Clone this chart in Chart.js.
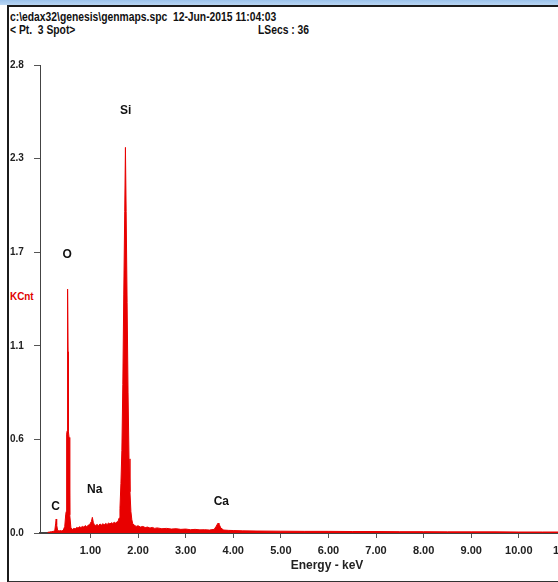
<!DOCTYPE html>
<html>
<head>
<meta charset="utf-8">
<script src="https://cdn.jsdelivr.net/npm/chart.js@4.4.1/dist/chart.umd.min.js"></script>
<style>
  html, body { margin: 0; padding: 0; width: 558px; height: 582px; overflow: hidden; background: #fff; }
  .topStrip { position: absolute; left: 0; top: 0; width: 558px; height: 5px; background: linear-gradient(#9cc3ec, #b9d6f3); }
  .frame { position: absolute; left: 7px; top: 5px; width: 700px; height: 574px; border-top: 2px solid #1b1b1b; border-left: 2px solid #1b1b1b; border-bottom: 2px solid #333; }
  .hdr { position: absolute; font: bold 12px "Liberation Sans", Arial, sans-serif; color: #111; white-space: pre; transform: scaleX(0.86); transform-origin: left top; }
  .kcnt { position: absolute; left: 10px; top: 290px; font: bold 11px "Liberation Sans", Arial, sans-serif; color: #e00000; transform: scaleX(0.9); transform-origin: left top; }
  #chartBox { position: absolute; left: 8px; top: 40px; width: 606px; height: 540px; }
</style>
</head>
<body>
<div class="topStrip"></div>
<div class="frame"></div>
<div class="hdr" style="left:10px; top:10px;">c:\edax32\genesis\genmaps.spc  12-Jun-2015 11:04:03</div>
<div class="hdr" style="left:10px; top:23px;">&lt; Pt.  3 Spot&gt;</div>
<div class="hdr" style="left:258px; top:23px;">LSecs : 36</div>
<div class="kcnt">KCnt</div>
<div id="chartBox"><canvas id="edsChart"></canvas></div>

<script>
// spectrum (energy in keV, counts in KCnt)
const energies = [
  0.10, 0.14, 0.18, 0.22, 0.25, 0.27, 0.28, 0.29, 0.31, 0.34, 0.37, 0.40, 0.43, 0.46,
  0.48, 0.49, 0.50, 0.51, 0.515, 0.52, 0.525, 0.53, 0.535, 0.55, 0.56, 0.57, 0.59,
  0.62, 0.65, 0.68, 0.71, 0.74, 0.77, 0.80, 0.83, 0.86, 0.89, 0.92, 0.95, 0.98,
  1.00, 1.02, 1.04, 1.06, 1.08, 1.11, 1.14, 1.17, 1.20, 1.23, 1.26, 1.29, 1.32,
  1.35, 1.38, 1.41, 1.44, 1.47, 1.50, 1.53, 1.56, 1.58, 1.60, 1.62, 1.64, 1.66,
  1.68, 1.70, 1.72, 1.735, 1.75, 1.77, 1.79, 1.81, 1.83, 1.85, 1.87, 1.89,
  1.92, 1.96, 2.00, 2.05, 2.10, 2.15, 2.20, 2.25, 2.30, 2.35, 2.40, 2.50, 2.60,
  2.70, 2.80, 2.90, 3.00, 3.10, 3.20, 3.30, 3.40, 3.50, 3.60, 3.64, 3.68, 3.70,
  3.74, 3.80, 3.90, 4.00, 4.20, 4.50, 5.00, 5.50, 6.00, 6.50, 7.00, 7.50, 8.00,
  8.50, 9.00, 9.50, 10.00, 10.50, 11.00, 11.50, 12.00
];
const counts = [
  0.004, 0.006, 0.008, 0.010, 0.014, 0.060, 0.085, 0.050, 0.016, 0.012, 0.015, 0.012, 0.018, 0.040,
  0.110, 0.130, 0.600, 0.620, 1.300, 1.480, 1.470, 1.100, 0.620, 0.580, 0.140, 0.110, 0.030,
  0.022, 0.028, 0.025, 0.034, 0.030, 0.038, 0.033, 0.040, 0.036, 0.045, 0.038, 0.047, 0.050,
  0.060, 0.070, 0.095, 0.065, 0.050, 0.046, 0.052, 0.044, 0.055, 0.048, 0.056, 0.050, 0.058,
  0.052, 0.060, 0.055, 0.062, 0.058, 0.065, 0.060, 0.068, 0.070, 0.090, 0.150, 0.300, 0.500,
  0.900, 1.450, 1.950, 2.340, 1.950, 1.400, 0.850, 0.450, 0.250, 0.130, 0.080, 0.055,
  0.048, 0.040, 0.044, 0.036, 0.040, 0.033, 0.036, 0.030, 0.034, 0.028, 0.031, 0.026, 0.028,
  0.024, 0.026, 0.022, 0.024, 0.020, 0.022, 0.019, 0.020, 0.018, 0.022, 0.040, 0.060, 0.055,
  0.030, 0.018, 0.016, 0.015, 0.013, 0.012, 0.011, 0.010, 0.010, 0.009, 0.009, 0.008, 0.008,
  0.007, 0.007, 0.007, 0.006, 0.006, 0.006, 0.005, 0.005
];

// element labels
const peakNames = ['C', 'O', 'Na', 'Si', 'Ca'];
const peakLabelEnergy = [0.27, 0.51, 1.09, 1.74, 3.75];
const peakLabelLevel = [0.16, 1.69, 0.26, 2.56, 0.19];

// axes
const xTickValues = [1, 2, 3, 4, 5, 6, 7, 8, 9, 10, 11];
const yTickValues = [0, 0.568, 1.136, 1.704, 2.272, 2.84];
const yTickLabels = ['0.0', '0.6', '1.1', '1.7', '2.3', '2.8'];

const redColor = '#e80000';
const fontFamily = '"Liberation Sans", Arial, sans-serif';

const peakLabels = {
    id: 'peakLabels',
    afterDatasetsDraw(chart) {
        const { ctx, scales: { x, y } } = chart;
        ctx.save();
        ctx.font = 'bold 12px ' + fontFamily;
        ctx.fillStyle = '#111';
        ctx.textAlign = 'center';
        ctx.textBaseline = 'middle';
        peakNames.forEach((name, i) => {
            ctx.fillText(name, x.getPixelForValue(peakLabelEnergy[i]), y.getPixelForValue(peakLabelLevel[i]));
        });
        ctx.restore();
    }
};

const ctx = document.getElementById('edsChart').getContext('2d');

new Chart(ctx, {
    type: 'line',
    data: {
        datasets: [{
            data: energies.map((e, i) => ({ x: e, y: counts[i] })),
            borderColor: redColor,
            backgroundColor: redColor,
            borderWidth: 1,
            tension: 0,
            pointRadius: 0,
            fill: 'origin'
        }]
    },
    options: {
        responsive: true,
        maintainAspectRatio: false,
        animation: false,
        layout: {
            padding: { left: 2, top: 25, right: 0, bottom: 0 }
        },
        plugins: {
            legend: { display: false },
            tooltip: { enabled: false }
        },
        scales: {
            x: {
                type: 'linear',
                min: -0.06,
                max: 12,
                afterBuildTicks: scale => { scale.ticks = xTickValues.map(v => ({ value: v })); },
                afterFit: scale => { scale.height = 47; },
                grid: { drawOnChartArea: false, tickLength: 5, color: '#555', tickWidth: 1 },
                border: { display: true, color: '#444', width: 2 },
                ticks: {
                    color: '#222',
                    font: { family: fontFamily, size: 11, weight: 'bold' },
                    padding: 6,
                    maxRotation: 0,
                    autoSkip: false,
                    callback: value => value.toFixed(2)
                },
                title: {
                    display: true,
                    text: 'Energy - keV',
                    color: '#222',
                    font: { family: fontFamily, size: 12, weight: 'bold' },
                    padding: { top: 0, bottom: 7 }
                }
            },
            y: {
                type: 'linear',
                min: 0,
                max: 2.84,
                afterBuildTicks: scale => { scale.ticks = yTickValues.map(v => ({ value: v })); },
                afterFit: scale => { scale.width = 30; },
                grid: { drawOnChartArea: false, tickLength: 6, color: '#555', tickWidth: 1 },
                border: { display: true, color: '#444', width: 1 },
                ticks: {
                    color: '#222',
                    crossAlign: 'far',
                    font: { family: fontFamily, size: 10, weight: 'bold' },
                    callback: (value, index) => yTickLabels[index]
                }
            }
        }
    },
    plugins: [peakLabels]
});
</script>
</body>
</html>
